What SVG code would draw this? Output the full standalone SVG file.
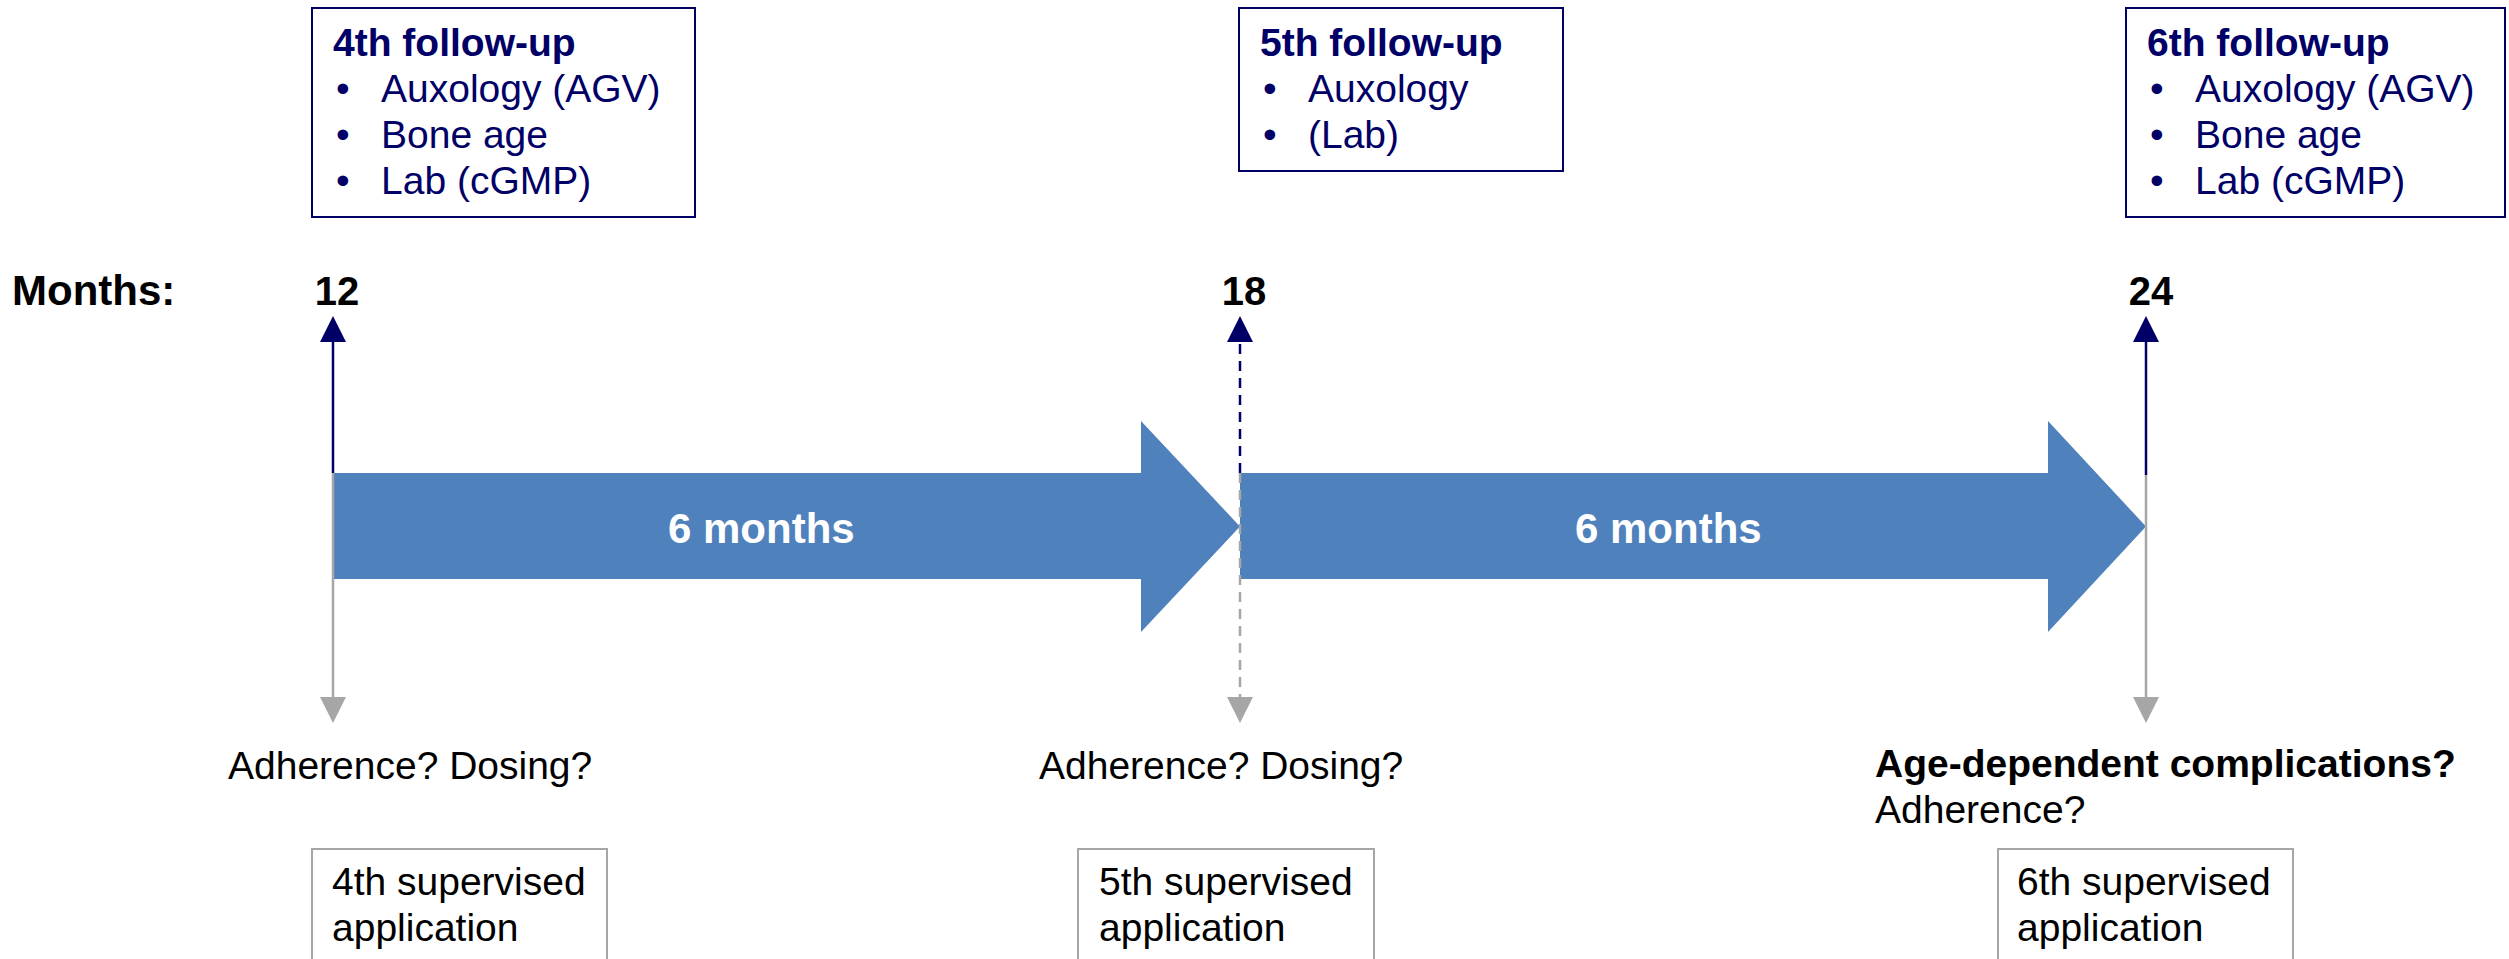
<svg xmlns="http://www.w3.org/2000/svg" width="2509" height="959" viewBox="0 0 2509 959">
<style>
text { font-family: "Liberation Sans", Arial, sans-serif; }
.navy { fill: #000066; font-size: 39px; }
.b { font-weight: bold; }
.fu { fill: #ffffff; stroke: #000066; stroke-width: 2; }
.sup { fill: #ffffff; stroke: #a6a6a6; stroke-width: 2; }
.blk { fill: #000000; font-size: 39px; }
.num { fill: #000000; font-size: 40px; font-weight: bold; text-anchor: middle; }
.big { fill: #4f81bd; }
.wt { fill: #ffffff; font-size: 42px; font-weight: bold; }
.up { stroke: #000066; stroke-width: 2.5; fill: none; marker-end: url(#mUp); }
.dn { stroke: #a6a6a6; stroke-width: 2.5; fill: none; marker-end: url(#mDn); }
.dash { stroke-dasharray: 10 7; }
</style>
<defs>
<marker id="mUp" markerUnits="userSpaceOnUse" markerWidth="26" markerHeight="26" refX="0" refY="13" orient="auto" viewBox="0 0 26 26">
<path d="M0,0 L26,13 L0,26 z" fill="#000066"/>
</marker>
<marker id="mDn" markerUnits="userSpaceOnUse" markerWidth="26" markerHeight="26" refX="0" refY="13" orient="auto" viewBox="0 0 26 26">
<path d="M0,0 L26,13 L0,26 z" fill="#a6a6a6"/>
</marker>
</defs>
<rect width="2509" height="959" fill="#ffffff"/>

<g id="months-label">
<text x="12" y="305" class="b" font-size="42" fill="#000000">Months:</text>
</g>

<g id="followup4">
<rect x="312" y="8" width="383" height="209" class="fu"/>
<text x="333" y="56" class="navy b">4th follow-up</text>
<text x="336" y="102" class="navy">•</text><text x="381" y="102" class="navy">Auxology (AGV)</text>
<text x="336" y="148" class="navy">•</text><text x="381" y="148" class="navy">Bone age</text>
<text x="336" y="194" class="navy">•</text><text x="381" y="194" class="navy">Lab (cGMP)</text>
</g>

<g id="followup5">
<rect x="1239" y="8" width="324" height="163" class="fu"/>
<text x="1260" y="56" class="navy b">5th follow-up</text>
<text x="1263" y="102" class="navy">•</text><text x="1308" y="102" class="navy">Auxology</text>
<text x="1263" y="148" class="navy">•</text><text x="1308" y="148" class="navy">(Lab)</text>
</g>

<g id="followup6">
<rect x="2126" y="8" width="379" height="209" class="fu"/>
<text x="2147" y="56" class="navy b">6th follow-up</text>
<text x="2150" y="102" class="navy">•</text><text x="2195" y="102" class="navy">Auxology (AGV)</text>
<text x="2150" y="148" class="navy">•</text><text x="2195" y="148" class="navy">Bone age</text>
<text x="2150" y="194" class="navy">•</text><text x="2195" y="194" class="navy">Lab (cGMP)</text>
</g>

<g id="m12"><text x="337" y="305" class="num">12</text></g>
<g id="m18"><text x="1244" y="305" class="num">18</text></g>
<g id="m24"><text x="2151" y="305" class="num">24</text></g>

<g id="period1">
<polygon points="333,473 1141,473 1141,421 1240,526.5 1141,632 1141,579 333,579" class="big"/>
<text x="668" y="543" class="wt">6 months</text>
</g>
<g id="period2">
<polygon points="1240,473 2048,473 2048,421 2146,526.5 2048,632 2048,579 1240,579" class="big"/>
<text x="1575" y="543" class="wt">6 months</text>
</g>

<g id="connectors">
<line x1="333" y1="473" x2="333" y2="342" class="up"/>
<line x1="333" y1="473" x2="333" y2="697" class="dn"/>
<line x1="1240" y1="473" x2="1240" y2="342" class="up dash"/>
<line x1="1240" y1="473" x2="1240" y2="697" class="dn dash"/>
<line x1="2146" y1="475" x2="2146" y2="342" class="up"/>
<line x1="2146" y1="475" x2="2146" y2="697" class="dn"/>
</g>

<g id="q12"><text x="228" y="779" class="blk">Adherence? Dosing?</text></g>
<g id="q18"><text x="1039" y="779" class="blk">Adherence? Dosing?</text></g>
<g id="q24">
<text x="1875" y="777" class="blk b">Age-dependent complications?</text>
<text x="1875" y="823" class="blk">Adherence?</text>
</g>

<g id="sup4">
<rect x="312" y="849" width="295" height="130" class="sup"/>
<text x="332" y="895" class="blk">4th supervised</text>
<text x="332" y="941" class="blk">application</text>
</g>
<g id="sup5">
<rect x="1078" y="849" width="296" height="130" class="sup"/>
<text x="1099" y="895" class="blk">5th supervised</text>
<text x="1099" y="941" class="blk">application</text>
</g>
<g id="sup6">
<rect x="1998" y="849" width="295" height="130" class="sup"/>
<text x="2017" y="895" class="blk">6th supervised</text>
<text x="2017" y="941" class="blk">application</text>
</g>
</svg>
